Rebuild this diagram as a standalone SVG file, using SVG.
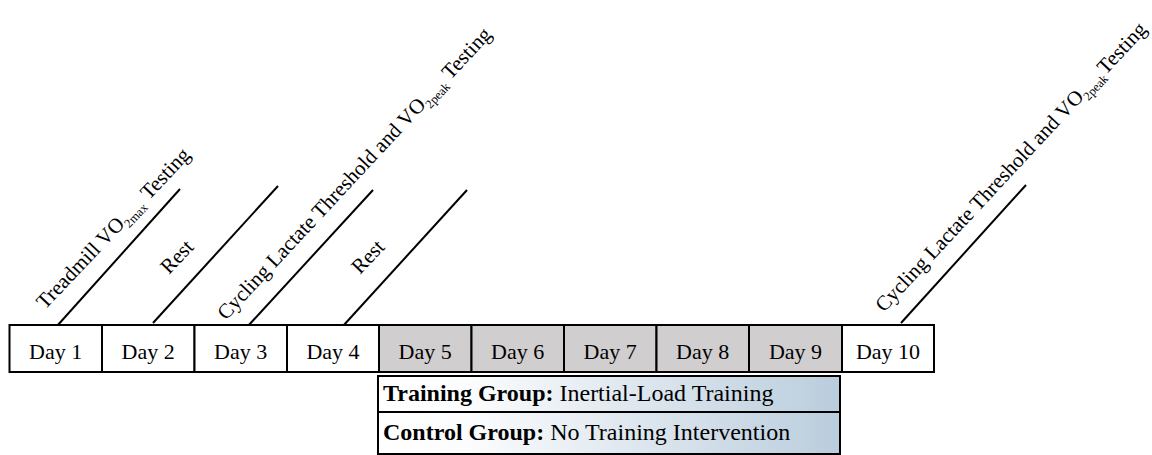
<svg xmlns="http://www.w3.org/2000/svg" width="1152" height="455" viewBox="0 0 1152 455">
<defs>
<linearGradient id="grp" x1="0" y1="0" x2="1" y2="0">
<stop offset="0" stop-color="#ffffff"/>
<stop offset="0.2" stop-color="#fbfcfd"/>
<stop offset="1" stop-color="#bacddd"/>
</linearGradient>
<style>
.day{fill:#ffffff;stroke:#000;stroke-width:2}
.day.g{fill:#d0cece}
.dt{font-family:"Liberation Serif",serif;font-size:22px;fill:#000;text-anchor:middle}
.lab{font-family:"Liberation Serif",serif;font-size:21px;fill:#000}
.sub{font-size:12.5px}
.grp{fill:url(#grp);stroke:#000;stroke-width:2}
.gt{font-family:"Liberation Serif",serif;font-size:24px;fill:#000}
.b{font-weight:bold}
.conn line{stroke:#000;stroke-width:2}
</style>
</defs>
<rect width="1152" height="455" fill="#fff"/>
<g id="connectors" class="conn">
<line x1="57" y1="326" x2="180" y2="189"/>
<line x1="153" y1="323" x2="278" y2="186"/>
<line x1="248" y1="326" x2="373" y2="190"/>
<line x1="343" y1="326" x2="467" y2="190"/>
<line x1="901" y1="323" x2="1026" y2="185"/>
</g>
<g id="day1"><rect class="day" x="9.5" y="325" width="92.5" height="47"/><text class="dt" x="55.7" y="359">Day 1</text></g>
<g id="day2"><rect class="day" x="102" y="325" width="92.5" height="47"/><text class="dt" x="148.2" y="359">Day 2</text></g>
<g id="day3"><rect class="day" x="194.5" y="325" width="92.5" height="47"/><text class="dt" x="240.7" y="359">Day 3</text></g>
<g id="day4"><rect class="day" x="287" y="325" width="92" height="47"/><text class="dt" x="333" y="359">Day 4</text></g>
<g id="day5"><rect class="day g" x="379" y="325" width="92.5" height="47"/><text class="dt" x="425.2" y="359">Day 5</text></g>
<g id="day6"><rect class="day g" x="471.5" y="325" width="92.5" height="47"/><text class="dt" x="517.7" y="359">Day 6</text></g>
<g id="day7"><rect class="day g" x="564" y="325" width="92.5" height="47"/><text class="dt" x="610.2" y="359">Day 7</text></g>
<g id="day8"><rect class="day g" x="656.5" y="325" width="92.5" height="47"/><text class="dt" x="702.7" y="359">Day 8</text></g>
<g id="day9"><rect class="day g" x="749" y="325" width="93" height="47"/><text class="dt" x="795.5" y="359">Day 9</text></g>
<g id="day10"><rect class="day" x="842" y="325" width="92" height="47"/><text class="dt" x="888" y="359">Day 10</text></g>
<g id="training-group"><rect class="grp" x="378" y="376" width="462" height="36"/><text class="gt" x="383" y="401"><tspan class="b">Training Group:</tspan> Inertial-Load Training</text></g>
<g id="control-group"><rect class="grp" x="378" y="412" width="462" height="42"/><text class="gt" x="383" y="440"><tspan class="b">Control Group:</tspan> No Training Intervention</text></g>
<g id="label1"><text class="lab" transform="translate(45,310) rotate(-46.5)">Treadmill VO<tspan class="sub" dy="5">2max</tspan><tspan dy="-5" dx="6">Testing</tspan></text></g>
<g id="label2"><text class="lab" transform="translate(169,275) rotate(-46.5)">Rest</text></g>
<g id="label3"><text class="lab" transform="translate(226,321) rotate(-47)">Cycling Lactate Threshold and VO<tspan class="sub" dy="5">2peak</tspan><tspan dy="-5" dx="5">Testing</tspan></text></g>
<g id="label4"><text class="lab" transform="translate(360,275) rotate(-46.5)">Rest</text></g>
<g id="label5"><text class="lab" transform="translate(884,313) rotate(-47)">Cycling Lactate Threshold and VO<tspan class="sub" dy="5">2peak</tspan><tspan dy="-5" dx="1">Testing</tspan></text></g>
</svg>
